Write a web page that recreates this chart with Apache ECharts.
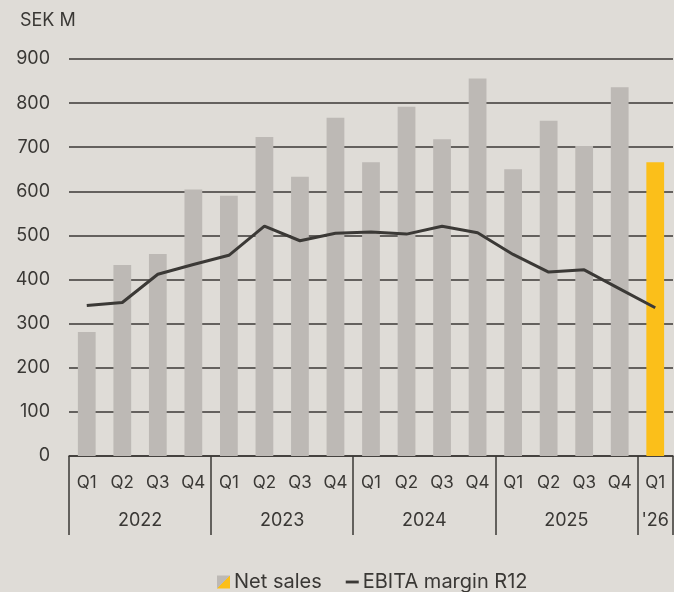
<!DOCTYPE html>
<html>
<head>
<meta charset="utf-8">
<script src="https://cdn.jsdelivr.net/npm/echarts@6/dist/echarts.min.js"></script>
<style>
html,body{margin:0;padding:0;background:#dfdcd7;}
#chart{width:674px;height:592px;}
</style>
</head>
<body>
<div id="chart"></div>
<script>
var quarters = ['Q1','Q2','Q3','Q4','Q1','Q2','Q3','Q4','Q1','Q2','Q3','Q4','Q1','Q2','Q3','Q4','Q1'];
var years = ['2022','2023','2024','2025',"'26"];
var yearSizes = [4,4,4,4,1];
var netSales = [281,433,458,604,590,723,633,767,666,792,718,856,650,760,703,836,666];
var ebitaMargin = [341,348,412,434,455,521,488,505,508,503,521,506,457,417,422,379,336];
var yTicks = [0,100,200,300,400,500,600,700,800,900];

var GRAY = '#bdb9b5', YELLOW = '#fbbf1a', DARK = '#3b3936', TEXT = '#3a3835';
var FONT = 'Inter';

var cats = quarters.map(function(q,i){ return i + '_' + q; });

var bounds = [0], centers = [], acc = 0;
yearSizes.forEach(function(s){ centers.push(acc + s/2); acc += s; bounds.push(acc); });
var centerLabel = {};
centers.forEach(function(c,i){ centerLabel[c] = years[i]; });

var barData = netSales.map(function(v,i){
  return i === netSales.length - 1 ? {value:v, itemStyle:{color:YELLOW}} : v;
});

var chart = echarts.init(document.getElementById('chart'), null, {renderer:'canvas'});
chart.setOption({
  backgroundColor:'#dfdcd7',
  animation:false,
  title:{text:'SEK M', left:15, top:7, textStyle:{fontFamily:FONT, fontSize:18, fontWeight:'normal', color:TEXT}},
  grid:{left:69, right:1, top:59, bottom:136},
  legend:{
    top:567, left:212, itemWidth:13, itemHeight:13, itemGap:24, symbolKeepAspect:true,
    textStyle:{fontFamily:FONT, fontSize:20, color:TEXT, padding:[0,0,0,-1]},
    data:[
      {name:'Net sales', icon:'rect', itemStyle:{color:new echarts.graphic.LinearGradient(0,0,1,1,[{offset:0,color:GRAY},{offset:0.5,color:GRAY},{offset:0.5,color:YELLOW},{offset:1,color:YELLOW}])}},
      {name:'EBITA margin R12', icon:'path://M0,0H10V2.2H0Z', itemStyle:{color:DARK}}
    ]
  },
  xAxis:[{
    type:'category', data:cats, boundaryGap:true,
    axisLine:{show:true, lineStyle:{color:DARK, width:1.5}},
    axisTick:{show:false},
    axisLabel:{interval:0, margin:18, fontFamily:FONT, fontSize:17, color:TEXT,
      formatter:function(v){ return v.split('_')[1]; }}
  },{
    type:'value', min:0, max:quarters.length, position:'bottom',
    axisLine:{show:false}, splitLine:{show:false},
    axisTick:{show:true, customValues:bounds, length:79, lineStyle:{color:DARK, width:1.5}},
    axisLabel:{customValues:centers, margin:56, fontFamily:FONT, fontSize:18, color:TEXT,
      formatter:function(v){ return centerLabel[v] || ''; }}
  }],
  yAxis:{
    type:'value', min:0, max:900, interval:100,
    axisLine:{show:false}, axisTick:{show:false},
    splitLine:{show:true, lineStyle:{color:DARK, width:1.5}},
    axisLabel:{margin:19, fontFamily:FONT, fontSize:18, color:TEXT,
      formatter:function(v){ return yTicks.indexOf(v) >= 0 ? String(v) : ''; }}
  },
  series:[{
    name:'Net sales', type:'bar', xAxisIndex:0, data:barData, barWidth:'50%',
    itemStyle:{color:GRAY}
  },{
    name:'EBITA margin R12', type:'line', xAxisIndex:0, data:ebitaMargin,
    symbol:'none', lineStyle:{color:DARK, width:3}, itemStyle:{color:DARK}
  }]
});
</script>
</body>
</html>
